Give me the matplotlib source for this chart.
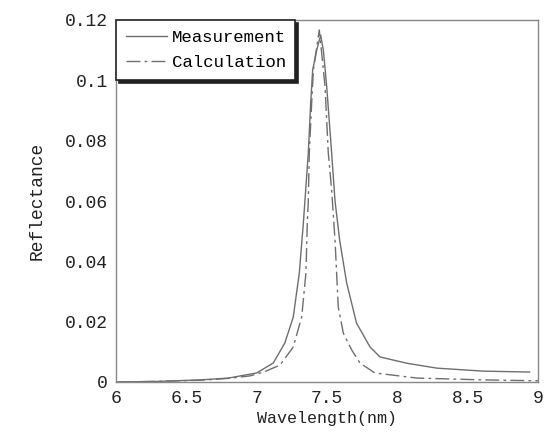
import matplotlib
matplotlib.use("Agg")
import matplotlib.pyplot as plt

# Measurement curve
meas_x = [6.0, 6.3, 6.6, 6.8, 7.0, 7.118, 7.2, 7.26, 7.303, 7.332, 7.343, 7.367, 7.384, 7.398, 7.427,
          7.455, 7.474, 7.498, 7.533, 7.557, 7.59, 7.64, 7.71, 7.806, 7.877, 7.95, 8.07, 8.28, 8.61, 8.94]
meas_y = [0.0, 0.0002, 0.0007, 0.0013, 0.003, 0.0063, 0.0129, 0.0215, 0.0361, 0.0527, 0.060, 0.0759,
          0.0925, 0.1034, 0.110, 0.115, 0.110, 0.0979, 0.0759, 0.060, 0.047, 0.0328, 0.0195, 0.0116,
          0.0083, 0.0075, 0.0062, 0.0046, 0.0036, 0.0033]

# Calculation curve
calc_x = [6.0, 6.3, 6.6, 6.8, 6.95, 7.05, 7.166, 7.26, 7.32, 7.35, 7.36, 7.367, 7.374, 7.391, 7.403,
          7.445, 7.46, 7.486, 7.509, 7.533, 7.557, 7.58, 7.616, 7.676, 7.734, 7.84, 8.14, 8.61, 9.0]
calc_y = [0.0, 0.0002, 0.0006, 0.0012, 0.002, 0.0033, 0.0056, 0.0116, 0.0215, 0.036, 0.0527, 0.060,
          0.0759, 0.0925, 0.1034, 0.1167, 0.110, 0.098, 0.076, 0.0636, 0.047, 0.0249, 0.0162, 0.0106,
          0.0063, 0.003, 0.0013, 0.0007, 0.0004]

x_ticks = [6, 6.5, 7, 7.5, 8, 8.5, 9]
x_tick_labels = ["6", "6.5", "7", "7.5", "8", "8.5", "9"]
y_ticks = [0, 0.02, 0.04, 0.06, 0.08, 0.1, 0.12]
y_tick_labels = ["0", "0.02", "0.04", "0.06", "0.08", "0.1", "0.12"]

plt.rcParams['font.family'] = ['Liberation Mono', 'DejaVu Sans Mono']

fig = plt.figure(figsize=(5.48, 4.42), dpi=100)
ax = fig.add_axes([116/548, 1-382/442, (538-116)/548, (382-20)/442])

ax.plot(meas_x, meas_y, color='#6e6e6e', lw=1.0, label='Measurement')
ax.plot(calc_x, calc_y, color='#6e6e6e', lw=1.0, linestyle=(0, (10, 3, 2, 3)), label='Calculation')

ax.set_xlim(6, 9)
ax.set_ylim(0, 0.12)
ax.set_xticks(x_ticks)
ax.set_xticklabels(x_tick_labels, fontsize=13)
ax.set_yticks(y_ticks)
ax.set_yticklabels(y_tick_labels, fontsize=13)
ax.tick_params(length=0, pad=6, colors='#222222')
for s in ax.spines.values():
    s.set_color('#888888')
    s.set_linewidth(1.0)

ax.set_xlabel('Wavelength(nm)', fontsize=12, color='#222222', labelpad=3)
ax.set_ylabel('Reflectance', fontsize=13, color='#222222', labelpad=14)

leg = ax.legend(loc='upper left', fontsize=12.5, fancybox=False, shadow={'color': '#222222', 'alpha': 1.0},
                edgecolor='#222222', framealpha=1, handlelength=2.4, handletextpad=0.25,
                borderaxespad=0.0, borderpad=0.55, labelspacing=0.6)
leg.get_frame().set_linewidth(1.2)

fig.savefig('out.png', dpi=100)
